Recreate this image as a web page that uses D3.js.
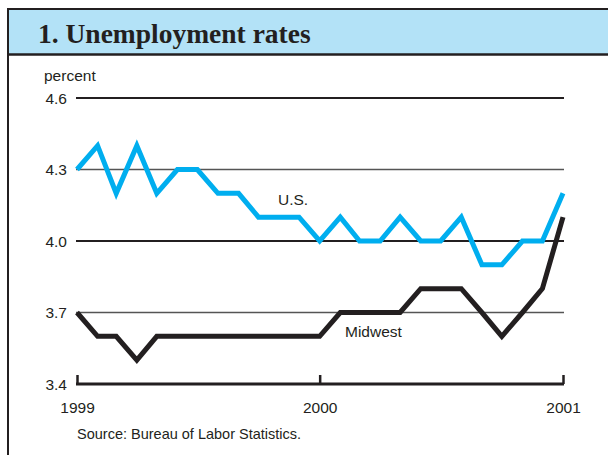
<!DOCTYPE html>
<html>
<head>
<meta charset="utf-8">
<script src="https://cdn.jsdelivr.net/npm/d3@7"></script>
<style>
  body { margin: 0; background: #fff; }
  svg { display: block; }
</style>
</head>
<body>
<svg width="608" height="455"></svg>
<script>
// monthly, Jan 1999 .. Jan 2001
const months = d3.range(25).map(i => new Date(1999, i, 1));
const usRate =      [4.3, 4.4, 4.2, 4.4, 4.2, 4.3, 4.3, 4.2, 4.2, 4.1, 4.1, 4.1,
                     4.0, 4.1, 4.0, 4.0, 4.1, 4.0, 4.0, 4.1, 3.9, 3.9, 4.0, 4.0, 4.2];
const midwestRate = [3.7, 3.6, 3.6, 3.5, 3.6, 3.6, 3.6, 3.6, 3.6, 3.6, 3.6, 3.6,
                     3.6, 3.7, 3.7, 3.7, 3.7, 3.8, 3.8, 3.8, 3.7, 3.6, 3.7, 3.8, 4.1];
const yTicks = [3.4, 3.7, 4.0, 4.3, 4.6];
const xTicks = [new Date(1999, 0, 1), new Date(2000, 0, 1), new Date(2001, 0, 1)];

var svg = d3.select("svg"),
    width = +svg.attr("width"),
    height = +svg.attr("height");

const x = d3.scaleTime()
  .domain([new Date(1999, 0, 1), new Date(2001, 0, 1)])
  .range([77, 563]);
const y = d3.scaleLinear()
  .domain([3.4, 4.6])
  .range([384, 98]);

// frame + title band
svg.append("rect")
  .attr("x", 8).attr("y", 9)
  .attr("width", width).attr("height", 45.5)
  .attr("fill", "#b3e2f7");
svg.append("line")
  .attr("x1", 8).attr("x2", width).attr("y1", 9).attr("y2", 9)
  .attr("stroke", "#231f20").attr("stroke-width", 2);
svg.append("line")
  .attr("x1", 8).attr("x2", width).attr("y1", 54.5).attr("y2", 54.5)
  .attr("stroke", "#231f20").attr("stroke-width", 2.5);
svg.append("line")
  .attr("x1", 8).attr("x2", 8).attr("y1", 8).attr("y2", height)
  .attr("stroke", "#231f20").attr("stroke-width", 2);

svg.append("text")
  .attr("x", 38).attr("y", 43)
  .attr("font-family", "Liberation Serif, Times New Roman, serif")
  .attr("font-weight", "bold")
  .attr("font-size", 27.5)
  .attr("fill", "#231f20")
  .text("1. Unemployment rates");

const font = "Liberation Sans, Arial, sans-serif";
const fs = 15.5;

svg.append("text")
  .attr("x", 44).attr("y", 81)
  .attr("font-family", font).attr("font-size", fs).attr("fill", "#231f20")
  .text("percent");

// gridlines
svg.append("g")
  .selectAll("line")
  .data(yTicks.filter(d => d > 3.4))
  .join("line")
    .attr("x1", 76).attr("x2", 564)
    .attr("y1", d => y(d)).attr("y2", d => y(d))
    .attr("stroke", d => (d === 4.6 || d === 4.0) ? "#231f20" : "#555")
    .attr("stroke-width", d => (d === 4.6 || d === 4.0) ? 2 : 1.5);

// y labels
svg.append("g")
  .selectAll("text")
  .data(yTicks)
  .join("text")
    .attr("x", 67).attr("y", d => y(d) + 5.5)
    .attr("text-anchor", "end")
    .attr("font-family", font).attr("font-size", fs).attr("fill", "#231f20")
    .text(d => d.toFixed(1));

// x axis
const xAxis = d3.axisBottom(x)
  .tickValues(xTicks)
  .tickSize(-9)
  .tickSizeOuter(0)
  .tickFormat(d3.timeFormat("%Y"));
const gx = svg.append("g")
  .attr("transform", `translate(0,${y(3.4)})`)
  .call(xAxis);
gx.select(".domain")
  .attr("d", `M76,0H564`)
  .attr("stroke", "#231f20").attr("stroke-width", 3);
gx.selectAll(".tick line").attr("stroke", "#231f20").attr("stroke-width", 2.5)
  .attr("y2", -9);
gx.selectAll(".tick text")
  .attr("y", 29)
  .attr("dy", 0)
  .attr("font-family", font).attr("font-size", fs).attr("fill", "#231f20");

// series
const line = d3.line()
  .x((d, i) => x(months[i]))
  .y(d => y(d));

svg.append("path")
  .datum(midwestRate)
  .attr("fill", "none")
  .attr("stroke", "#231f20")
  .attr("stroke-width", 5)
  .attr("stroke-linejoin", "miter")
  .attr("d", line);

svg.append("path")
  .datum(usRate)
  .attr("fill", "none")
  .attr("stroke", "#00aeef")
  .attr("stroke-width", 5)
  .attr("stroke-linejoin", "miter")
  .attr("d", line);

svg.append("text")
  .attr("x", 278).attr("y", 205)
  .attr("font-family", font).attr("font-size", fs).attr("fill", "#231f20")
  .text("U.S.");
svg.append("text")
  .attr("x", 345).attr("y", 337)
  .attr("font-family", font).attr("font-size", fs).attr("fill", "#231f20")
  .text("Midwest");

svg.append("text")
  .attr("x", 77).attr("y", 439)
  .attr("font-family", font).attr("font-size", 14.5).attr("fill", "#231f20")
  .text("Source: Bureau of Labor Statistics.");
</script>
</body>
</html>
